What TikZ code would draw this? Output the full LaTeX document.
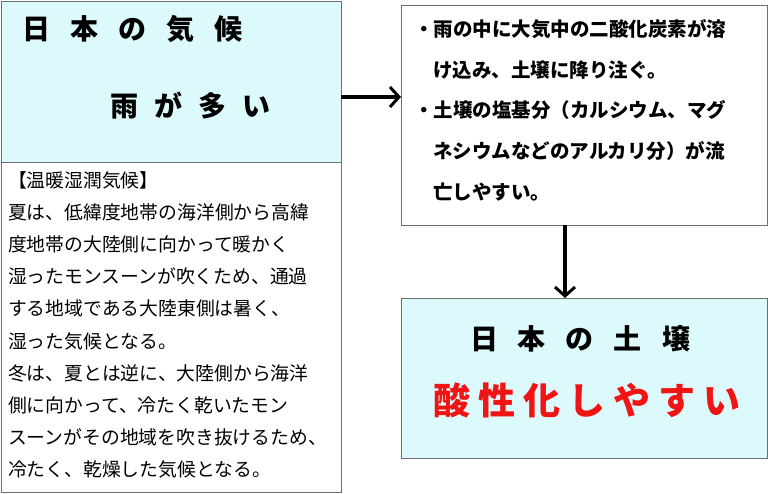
\documentclass[tikz,border=0pt]{standalone}
\usepackage{fontspec}
\setmainfont{Noto Sans CJK JP}
\usetikzlibrary{arrows.meta}
\definecolor{lc}{RGB}{220, 250, 252}
\definecolor{ln}{RGB}{110, 110, 110}
\definecolor{rd}{RGB}{240, 20, 20}
\newcommand{\gp}[1]{\hspace{#1pt}}
\begin{document}
\begin{tikzpicture}[x=1pt, y=-1pt]
\tikzset{
  box/.style={draw=ln, line width=0.9pt},
  body/.style={anchor=north west, align=left, inner sep=0pt, font=\fontsize{18.8}{32.2}\selectfont},
  bul/.style={anchor=north west, align=left, inner sep=0pt, font=\bfseries\fontsize{19.5}{40.8}\selectfont},
  big/.style={anchor=west, inner sep=0pt, font=\bfseries\fontsize{28}{30}\selectfont},
  arr/.style={line width=3.5pt, -{Straight Barb[length=9pt, width=20pt, line width=3pt]}}
}
\useasboundingbox (0,0) rectangle (768,493);
% boxes
\draw [box, fill=lc] (1,1) rectangle (341,162);
\draw [box] (1,162) rectangle (341,492);
\draw [box] (401,5) rectangle (767,225);
\draw [box, fill=lc] (401,298) rectangle (767,458);
\coordinate (a1) at (341,97);
\coordinate (a2) at (401,97);
\coordinate (b1) at (565,225);
\coordinate (b2) at (565,298);
\draw [arr] (a1) to (a2);
\draw [arr] (b1) to (b2);
% texts
\node (t1) [big] at (22,29) {日\gp{20}本\gp{20}の\gp{20}気\gp{20}候};
\node (t2) [big] at (110,106) {雨\gp{16}が\gp{16}多\gp{16}い};
\node (t3) [body] at (8,171) {【温暖湿潤気候】\\夏は、低緯度地帯の海洋側から高緯\\度地帯の大陸側に向かって暖かく\\湿ったモンスーンが吹くため、通過\\する地域である大陸東側は暑く、\\湿った気候となる。\\冬は、夏とは逆に、大陸側から海洋\\側に向かって、冷たく乾いたモン\\スーンがその地域を吹き抜けるため、\\冷たく、乾燥した気候となる。};
\node (t4) [bul] at (414,19) {・雨の中に大気中の二酸化炭素が溶\\\hspace*{19pt}け込み、土壌に降り注ぐ。\\・土壌の塩基分（カルシウム、マグ\\\hspace*{19pt}ネシウムなどのアルカリ分）が流\\\hspace*{19pt}亡しやすい。};
\node (t5) [big, anchor=center] at (580,339) {日\gp{20}本\gp{20}の\gp{20}土\gp{20}壌};
\node (t6) [big, anchor=center, text=rd, font=\bfseries\fontsize{37}{40}\selectfont] at (587,400) {酸\gp{8}性\gp{8}化\gp{8}し\gp{8}や\gp{8}す\gp{8}い};
\end{tikzpicture}
\end{document}
